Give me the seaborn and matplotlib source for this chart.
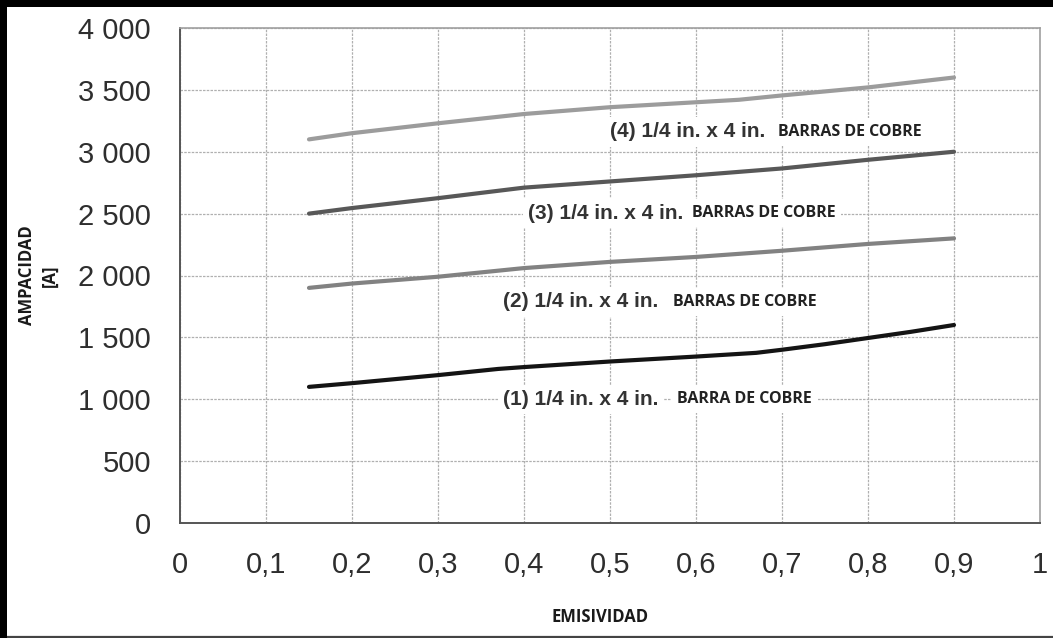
import matplotlib
matplotlib.use("Agg")
import matplotlib.pyplot as plt
import pandas as pd
import seaborn as sns
from matplotlib.ticker import MultipleLocator, FuncFormatter
from matplotlib.patches import Rectangle
from matplotlib.lines import Line2D

# Ampacity curves of copper busbars versus surface emissivity
emisividad_1 = [0.15, 0.20, 0.30, 0.37, 0.40, 0.50, 0.60, 0.67, 0.70, 0.75, 0.80, 0.85, 0.90]
ampacidad_1 = [1100, 1130, 1195, 1245, 1260, 1305, 1345, 1375, 1400, 1445, 1495, 1545, 1600]

emisividad_2 = [0.15, 0.20, 0.30, 0.40, 0.50, 0.60, 0.70, 0.80, 0.90]
ampacidad_2 = [1900, 1935, 1990, 2060, 2110, 2150, 2200, 2255, 2300]

emisividad_3 = [0.15, 0.20, 0.30, 0.40, 0.50, 0.60, 0.70, 0.80, 0.90]
ampacidad_3 = [2500, 2545, 2625, 2710, 2760, 2810, 2865, 2935, 3000]

emisividad_4 = [0.15, 0.20, 0.30, 0.40, 0.50, 0.60, 0.65, 0.70, 0.80, 0.90]
ampacidad_4 = [3100, 3150, 3230, 3305, 3360, 3400, 3420, 3455, 3520, 3600]

series = ["(1)", "(2)", "(3)", "(4)"]
etiquetas = ["(1) 1/4 in. x 4 in.", "(2) 1/4 in. x 4 in.",
             "(3) 1/4 in. x 4 in.", "(4) 1/4 in. x 4 in."]
materiales = ["BARRA DE COBRE", "BARRAS DE COBRE",
              "BARRAS DE COBRE", "BARRAS DE COBRE"]

x_ticks = [0, 0.1, 0.2, 0.3, 0.4, 0.5, 0.6, 0.7, 0.8, 0.9, 1]
y_ticks = [0, 500, 1000, 1500, 2000, 2500, 3000, 3500, 4000]

frames = []
for name, xs, ys in zip(series,
                        [emisividad_1, emisividad_2, emisividad_3, emisividad_4],
                        [ampacidad_1, ampacidad_2, ampacidad_3, ampacidad_4]):
    frames.append(pd.DataFrame({"emisividad": xs, "ampacidad": ys, "serie": name}))
df = pd.concat(frames, ignore_index=True)

sns.set_style("white")
plt.rcParams["font.family"] = ["Liberation Sans", "DejaVu Sans"]

fig = plt.figure(figsize=(10.53, 6.38), dpi=100)
ax = fig.add_axes([180 / 1053, 115 / 638, 860 / 1053, 495 / 638])

palette = {"(1)": "#141414", "(2)": "#828282", "(3)": "#585858", "(4)": "#9c9c9c"}
sns.lineplot(data=df, x="emisividad", y="ampacidad", hue="serie", palette=palette,
             linewidth=3.0, legend=False, ax=ax, solid_capstyle="round")

ax.set_xlim(0, 1)
ax.set_ylim(0, 4000)
ax.set_xticks(x_ticks)
ax.set_yticks(y_ticks)
ax.xaxis.set_minor_locator(MultipleLocator(0.05))
ax.yaxis.set_minor_locator(MultipleLocator(100))

ax.xaxis.set_major_formatter(FuncFormatter(lambda v, p: f"{v:g}".replace(".", ",")))
ax.yaxis.set_major_formatter(FuncFormatter(lambda v, p: f"{int(v):,}".replace(",", " ")))

ax.grid(True, which="major", color="#b0b0b0", linewidth=0.9, linestyle=(0, (2, 1)))
ax.set_axisbelow(True)

ax.tick_params(axis="both", which="major", labelsize=21, labelcolor="#2e2e2e",
               color="#666666", width=1.0)
ax.tick_params(axis="y", which="major", direction="out", length=9, pad=12)
ax.tick_params(axis="y", which="minor", direction="out", length=5, color="#777777", width=0.9)
ax.tick_params(axis="x", which="major", direction="out", length=7, pad=13)
ax.tick_params(axis="x", which="minor", direction="out", length=4, color="#777777", width=0.9)

for side in ("left", "bottom"):
    ax.spines[side].set_color("#555555")
    ax.spines[side].set_linewidth(1.4)
for side in ("top", "right"):
    ax.spines[side].set_color("#a0a0a0")
    ax.spines[side].set_linewidth(1.2)

ax.set_xlabel("EMISIVIDAD", fontfamily="Open Sans", fontweight="bold",
              fontsize=12, color="#1a1a1a")
ax.xaxis.set_label_coords(0.488, -0.172)
ax.set_ylabel("AMPACIDAD\n[A]", fontfamily="Open Sans", fontweight="bold",
              fontsize=12, color="#1a1a1a", linespacing=1.35)
ax.yaxis.set_label_coords(-0.141, 0.5)

# Curve captions: dimension text followed by the material name
pos_etiqueta = [(0.3756, 1000), (0.3756, 1786), (0.405, 2505), (0.50, 3160)]
pos_material = [0.578, 0.573, 0.595, 0.695]
for (xe, ye), xm, et, mat in zip(pos_etiqueta, pos_material, etiquetas, materiales):
    ax.text(xe, ye, et, fontsize=15, fontweight="bold", color="#333333",
            ha="left", va="center", zorder=4,
            bbox=dict(boxstyle="square,pad=0.25", fc="white", ec="none"))
    ax.text(xm, ye, mat, fontfamily="Open Sans", fontsize=11.5, fontweight="bold",
            color="#222222", ha="left", va="center", zorder=4,
            bbox=dict(boxstyle="square,pad=0.35", fc="white", ec="none"))

# Picture frame: heavy black on the left and top, thin rule at the bottom
fig.patches.append(Rectangle((0, 0), 7 / 1053, 1, transform=fig.transFigure,
                             facecolor="black", edgecolor="none", zorder=10))
fig.patches.append(Rectangle((0, 1 - 7 / 638), 1, 7 / 638, transform=fig.transFigure,
                             facecolor="black", edgecolor="none", zorder=10))
fig.lines.append(Line2D([0, 1], [1.5 / 638, 1.5 / 638], transform=fig.transFigure,
                        color="#444444", linewidth=1.6, zorder=10))

fig.savefig("out.png", dpi=100, facecolor="white")
